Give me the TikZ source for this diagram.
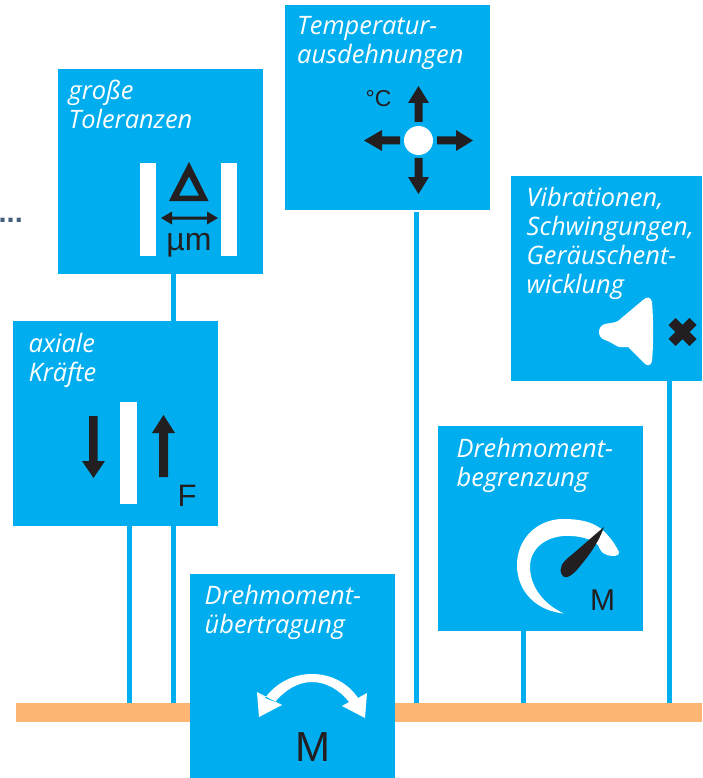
\documentclass[tikz,border=0pt]{standalone}
\usepackage{fontspec}
\setmainfont{Open Sans}
\newfontfamily\signfont{Liberation Sans}
\definecolor{cyanbox}{HTML}{00AEEF}
\definecolor{barorange}{HTML}{FDB573}
\definecolor{ink}{HTML}{231F20}
\definecolor{dotblue}{HTML}{44607F}
\tikzset{
  panel/.style={fill=cyanbox,draw=none,inner sep=0pt,minimum width=205pt,minimum height=205pt},
  title/.style={anchor=north west,inner sep=0pt,align=left,text=white,font=\fontsize{25.4}{29}\selectfont\itshape},
  link/.style={draw=cyanbox,line width=5pt},
  blackfill/.style={fill=ink,draw=none},
  whitefill/.style={fill=white,draw=none},
  sign/.style={inner sep=0pt,text=ink,anchor=base}
}
\begin{document}
\begin{tikzpicture}[x=1pt,y=-1pt]
\useasboundingbox (0,0) rectangle (702,778);
% bar
\node[fill=barorange,inner sep=0pt,minimum width=686pt,minimum height=19pt] (bar) at (359,712.5) {};
% panels
\node[panel] (grosse) at (160.5,171.5) {};
\node[panel] (temp) at (387.5,107.5) {};
\node[panel,minimum width=191pt] (vib) at (606.5,278.5) {};
\node[panel] (begr) at (540.5,528.5) {};
\node[panel] (axial) at (115.5,423.5) {};
\node[panel,minimum height=204pt] (ueber) at (292.5,676) {};
\coordinate (tempgap) at (416.5,212);
% connectors
\draw[link] (173,0 |- grosse.south) -- (173,0 |- axial.north);
\draw[link] (173,0 |- axial.south) -- (173,0 |- bar.north);
\draw[link] (129.5,0 |- axial.south) -- (129.5,0 |- bar.north);
\draw[link] (tempgap) -- (tempgap |- bar.north);
\draw[link] (523,0 |- begr.south) -- (523,0 |- bar.north);
\draw[link] (669,0 |- vib.south) -- (669,0 |- bar.north);
% titles
\node[title] (t1) at (68.5,80) {große\\Toleranzen};
\node[title] (t2) at (297,16) {Temperatur-\\ausdehnungen};
\node[title] (t3) at (526.5,187) {Vibrationen,\\Schwingungen,\\Geräuschent-\\wicklung};
\node[title] (t4) at (456.5,438) {Drehmoment-\\begrenzung};
\node[title] (t5) at (28.5,333) {axiale\\Kräfte};
\node[title] (t6) at (204.5,585) {Drehmoment-\\übertragung};
\node[anchor=base east,inner sep=0pt,text=dotblue,font=\signfont\bfseries\fontsize{29}{29}\selectfont] (dots) at (23,222) {...};
% grosse Toleranzen icon
\fill[whitefill] (140,163) rectangle (156,256);
\fill[whitefill] (221,163) rectangle (237,256);
\fill[blackfill,even odd rule] (189,162) -- (208.5,201) -- (169,201) -- cycle
  (189,176.5) -- (179,195.5) -- (199,195.5) -- cycle;
\fill[blackfill] (161,218) -- (172,211.5) -- (172,216.5) -- (207,216.5) -- (207,211.5) -- (218,218) -- (207,224.5) -- (207,219.5) -- (172,219.5) -- (172,224.5) -- cycle;
\node[sign,font=\signfont\fontsize{32}{32}\selectfont] (mu) at (189,250) {µm};
% temperature icon
\fill[whitefill] (418.5,140.5) circle (14.5);
\fill[blackfill] (418.5,86) -- (429,103) -- (422.5,103) -- (422.5,122) -- (414.5,122) -- (414.5,103) -- (408,103) -- cycle;
\fill[blackfill] (418.5,194) -- (429,177) -- (422.5,177) -- (422.5,158) -- (414.5,158) -- (414.5,177) -- (408,177) -- cycle;
\fill[blackfill] (364,140.5) -- (382,130) -- (382,136.5) -- (400,136.5) -- (400,144.5) -- (382,144.5) -- (382,151) -- cycle;
\fill[blackfill] (473,140.5) -- (456,130) -- (456,136.5) -- (437,136.5) -- (437,144.5) -- (456,144.5) -- (456,151) -- cycle;
\node[sign,font=\signfont\fontsize{23}{23}\selectfont] (degc) at (378.5,107) {°C};
% vibration icon
\fill[whitefill] (605,324) .. controls (610,323) and (614,323) .. (618,321)
  -- (643,300) .. controls (647,296) and (651,297) .. (652,302)
  .. controls (653.5,320) and (653.5,345) .. (652,361)
  .. controls (651,366) and (647,367) .. (643,362)
  -- (628,347) -- (619,347) .. controls (614,345) and (611,342) .. (605,340)
  .. controls (597,338) and (597,326) .. (605,324) -- cycle;
\draw[ink,line width=10pt] (672,321.5) -- (693,342.5) (693,321.5) -- (672,342.5);
% gauge icon
\fill[whitefill] (564,613.5) .. controls (537,611) and (517,592) .. (517,565)
  .. controls (517,538) and (538,519) .. (563,519)
  .. controls (578,519) and (590,521) .. (600,528)
  .. controls (609,535) and (615,544) .. (619,552)
  .. controls (620,556) and (613,557) .. (607,555)
  .. controls (601,553) and (600,549) .. (598,545)
  .. controls (592,539) and (578,535) .. (563,536)
  .. controls (543,538) and (530,550) .. (530,567)
  .. controls (530,586) and (543,604) .. (564,613.5) -- cycle;
\fill[blackfill] (604,527) .. controls (599,541) and (591,553) .. (581,565)
  .. controls (574,574) and (566,581) .. (562,575)
  .. controls (558,568) and (563,562) .. (569,557)
  .. controls (580,548) and (592,537) .. (604,527) -- cycle;
\node[sign,font=\signfont\fontsize{30}{30}\selectfont] (mg) at (602.5,610) {M};
% axial icon
\fill[whitefill] (120,402) rectangle (137,504);
\fill[blackfill] (93.5,478) -- (82,461) -- (89,461) -- (89,416) -- (97.5,416) -- (97.5,461) -- (105,461) -- cycle;
\fill[blackfill] (163.5,415) -- (152,433) -- (159,433) -- (159,477) -- (168,477) -- (168,433) -- (175,433) -- cycle;
\node[sign,font=\signfont\fontsize{31}{31}\selectfont] (ff) at (187,506) {F};
% torque icon
\fill[whitefill] (257,692) -- (282,705) -- (275,702)
  .. controls (285,690) and (298,682) .. (312,682)
  .. controls (326,682) and (340,690) .. (349,702)
  -- (342,706) -- (365,718) -- (367,693) -- (358,698)
  .. controls (348,683) and (331,674) .. (312,674)
  .. controls (293,674) and (276,683) .. (265,698) -- cycle;
\fill[whitefill] (257,692) -- (259,717) -- (282,705) -- (275,702) -- (265,698) -- cycle;
\node[sign,font=\signfont\fontsize{42}{42}\selectfont] (mt) at (312.5,761) {M};
\end{tikzpicture}
\end{document}
